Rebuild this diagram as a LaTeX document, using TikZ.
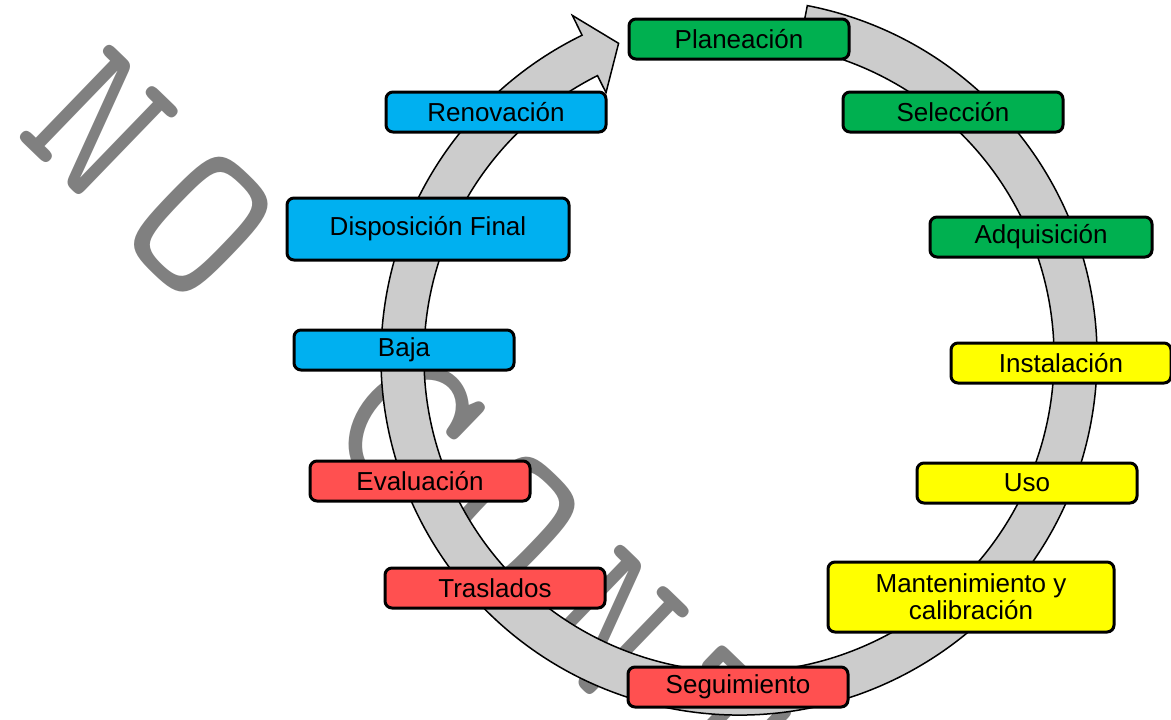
\documentclass[tikz,border=0pt]{standalone}
\usepackage{fontspec}
\setmainfont{Liberation Sans}
\definecolor{cgreen}{HTML}{00B050}
\definecolor{cblue}{HTML}{00B0F0}
\definecolor{cyellow}{HTML}{FFFF00}
\definecolor{cred}{HTML}{FF5050}
\definecolor{cring}{HTML}{CCCCCC}
\definecolor{cwm}{HTML}{808080}
\begin{document}
\begin{tikzpicture}[x=0.5pt,y=0.5pt,
  box/.style={draw=black, line width=1.5pt, rounded corners=3.5pt, inner sep=0pt,
    minimum width=110pt, minimum height=20pt,
    font=\fontsize{13}{13.5}\selectfont, align=center},
  gbox/.style={box, fill=cgreen},
  bbox/.style={box, fill=cblue},
  ybox/.style={box, fill=cyellow},
  rbox/.style={box, fill=cred},
  ring/.style={draw=black, line width=0.75pt, fill=cring, line join=miter},
  wm/.style={text=cwm, inner sep=0pt, anchor=base, rotate=-44,
    font=\ttfamily\fontsize{108}{108}\selectfont}]
\useasboundingbox (0,0) rectangle (1171,-719);
\clip (0,0) rectangle (1171,-719);
% watermark, one letter per cell along the slanted baseline
\foreach \ch/\i in {N/0,O/1,C/3,O/4,N/5,T/6,R/7,O/8,L/9,A/10,D/11,A/12}
  \node[wm] (wm\i) at ({53.8+\i*102.1},{-172.1-\i*100.1}) {\ch};
% circular arrow
\begin{scope}[shift={(739,-357)}]
\draw[ring] (79:358) arc[start angle=79, end angle=-244, radius=358]
  -- (116:380) -- (111:336) -- (116.7:296) -- (116.7:315)
  arc[start angle=-243.3, end angle=79, radius=315] -- cycle;
\end{scope}
% boxes
\node[gbox] (plan) at (739,-39) {Planeación};
\node[gbox] (sel) at (953,-112) {Selección};
\node[gbox, minimum width=111pt] (adq) at (1041,-237) {Adquisición};
\node[ybox] (inst) at (1061,-363) {Instalación};
\node[ybox] (uso) at (1027,-483) {Uso};
\node[ybox, minimum width=143pt, minimum height=35pt] (mant) at (971,-597) {Mantenimiento y\\calibración};
\node[rbox] (seg) at (738,-687) {Seguimiento};
\node[rbox] (tras) at (495,-588) {Traslados};
\node[rbox] (eval) at (420,-481) {Evaluación};
\node[bbox] (baja) at (404,-350) {Baja};
\node[bbox, minimum width=141pt, minimum height=31pt] (disp) at (428,-229) {Disposición Final};
\node[bbox] (renov) at (496,-112) {Renovación};
\end{tikzpicture}
\end{document}
